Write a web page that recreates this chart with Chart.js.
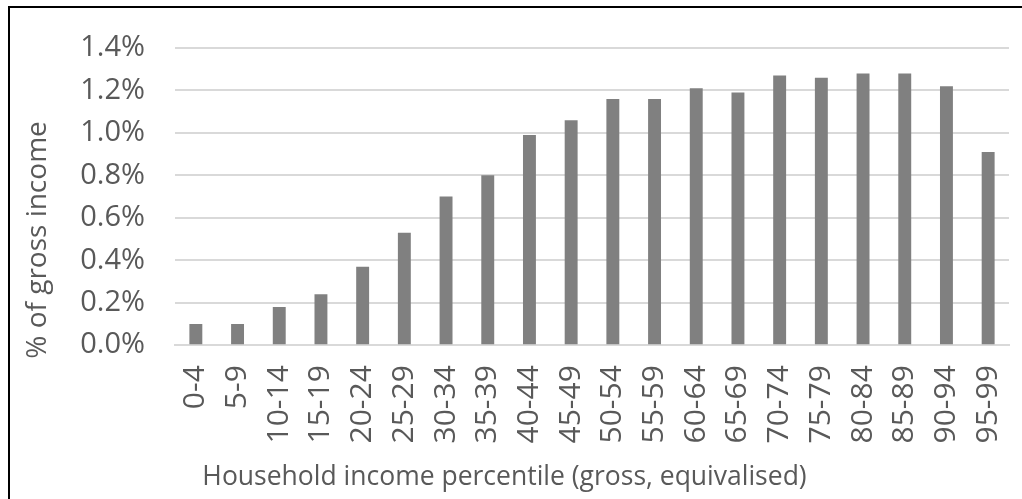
<!DOCTYPE html>
<html>
<head>
<meta charset="utf-8">
<script src="https://cdn.jsdelivr.net/npm/chart.js@4/dist/chart.umd.min.js"></script>
<style>
  html, body { margin: 0; padding: 0; background: #fff; overflow: hidden; }
  #wrap { position: relative; width: 1022px; height: 499px; }
  #chart { position: absolute; left: 0; top: 0; }
  #frame {
    position: absolute; left: 8px; top: 6px; right: -4px; bottom: -4px;
    border-top: 2px solid #000; border-left: 2px solid #000;
    pointer-events: none;
  }
</style>
</head>
<body>
<div id="wrap">
  <canvas id="chart" width="1022" height="499"></canvas>
  <div id="frame"></div>
</div>
<script>
// Percentile bands of household income
const categories = ['0-4', '5-9', '10-14', '15-19', '20-24', '25-29', '30-34', '35-39', '40-44', '45-49',
                    '50-54', '55-59', '60-64', '65-69', '70-74', '75-79', '80-84', '85-89', '90-94', '95-99'];

// Share of gross income, in percent
const shareOfIncome = [0.10, 0.10, 0.18, 0.24, 0.37, 0.53, 0.70, 0.80, 0.99, 1.06,
                       1.16, 1.16, 1.21, 1.19, 1.27, 1.26, 1.28, 1.28, 1.22, 0.91];

// Value axis ticks
const yTicks = [0, 0.2, 0.4, 0.6, 0.8, 1.0, 1.2, 1.4];

const xTitle = 'Household income percentile (gross, equivalised)';
const yTitle = '% of gross income';

const textColor = '#595959';
const fontFamily = '"Open Sans", Calibri, Carlito, sans-serif';

// Rotated value-axis title, drawn beside the tick labels
const sideTitle = {
  id: 'sideTitle',
  afterDraw(chart, args, opts) {
    const ctx = chart.ctx;
    ctx.save();
    ctx.translate(opts.x, opts.y);
    ctx.rotate(-Math.PI / 2);
    ctx.font = opts.size + 'px ' + fontFamily;
    ctx.fillStyle = textColor;
    ctx.textAlign = 'center';
    ctx.textBaseline = 'middle';
    ctx.fillText(opts.text, 0, 0);
    ctx.restore();
  }
};

new Chart(document.getElementById('chart'), {
  type: 'bar',
  data: {
    labels: categories,
    datasets: [{
      data: shareOfIncome,
      backgroundColor: '#808080',
      borderWidth: 0,
      barPercentage: 0.31,
      categoryPercentage: 1
    }]
  },
  plugins: [sideTitle],
  options: {
    responsive: false,
    animation: false,
    devicePixelRatio: 1,
    layout: { padding: { top: 48, right: 13, left: 0, bottom: 0 } },
    plugins: {
      legend: { display: false },
      tooltip: { enabled: false },
      title: {
        display: true,
        position: 'bottom',
        text: xTitle,
        color: textColor,
        font: { family: fontFamily, size: 26.5, weight: 'normal', lineHeight: 1.2 },
        padding: { top: 0, bottom: 6 }
      },
      sideTitle: { text: yTitle, x: 38, y: 240, size: 28 }
    },
    scales: {
      x: {
        grid: { display: false, drawTicks: false },
        border: { display: true, color: '#d9d9d9', width: 2 },
        ticks: {
          color: textColor,
          font: { family: fontFamily, size: 30 },
          minRotation: 90,
          maxRotation: 90,
          autoSkip: false,
          padding: 20
        },
        afterFit(scale) {
          scale.height = 116;
          scale.paddingLeft = 0;
          scale.paddingRight = 0;
        }
      },
      y: {
        min: 0,
        max: 1.4,
        afterBuildTicks(scale) { scale.ticks = yTicks.map(v => ({ value: v })); },
        grid: { color: '#d9d9d9', lineWidth: 2, drawTicks: false },
        border: { display: false },
        ticks: {
          color: textColor,
          font: { family: fontFamily, size: 29 },
          padding: 30,
          callback: v => v.toFixed(1) + '%'
        },
        afterFit(scale) { scale.width = 175; }
      }
    }
  }
});
</script>
</body>
</html>
